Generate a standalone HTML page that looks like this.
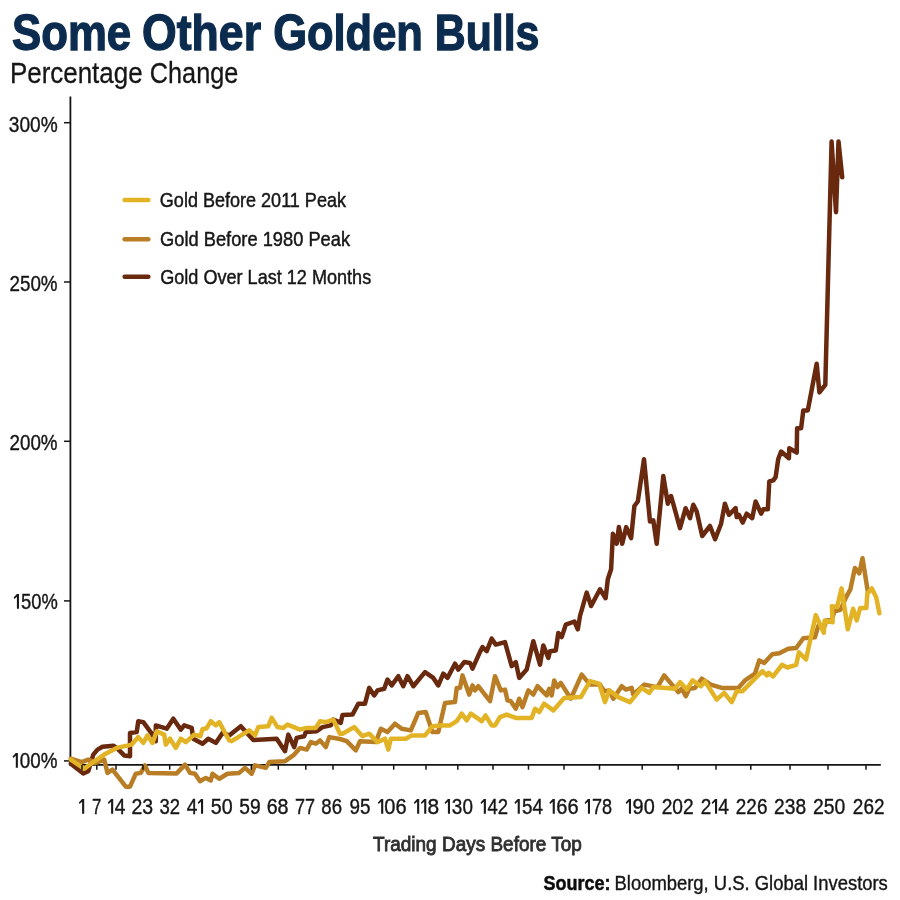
<!DOCTYPE html>
<html><head><meta charset="utf-8"><title>Some Other Golden Bulls</title>
<style>
html,body{margin:0;padding:0;background:#fff;}
body{width:900px;height:900px;overflow:hidden;}
svg{display:block;font-family:"Liberation Sans",sans-serif;will-change:transform;}
</style></head><body>
<svg width="900" height="900" viewBox="0 0 900 900">
<rect width="900" height="900" fill="#ffffff"/>
<g stroke="#141414" fill="none">
<path stroke-width="1.8" d="M70.4,96.5 V765.8"/>
<path stroke-width="1.8" d="M69.6,764.9 H880.8"/>
<path stroke-width="1.5" d="M64,122.7 H70.4"/>
<path stroke-width="1.5" d="M64,282 H70.4"/>
<path stroke-width="1.5" d="M64,441.3 H70.4"/>
<path stroke-width="1.5" d="M64,600.9 H70.4"/>
<path stroke-width="1.5" d="M64,760.9 H70.4"/>
</g>
<g fill="none" stroke-width="4.5" stroke-linejoin="round" stroke-linecap="round">
<path stroke="#69290f" d="M70.8,763.7 L83.3,773.4 L88.3,771.2 L93.3,754.6 L97.5,749.6 L102.5,746.7 L113.3,745.7 L117.5,748.7 L124.2,755.4 L130.0,756.2 L130.0,732.9 L136.7,732.1 L138.3,721.2 L143.3,722.1 L152.5,734.6 L155.8,741.2 L155.8,725.4 L166.7,728.7 L173.3,718.7 L180.8,729.6 L184.2,725.4 L191.7,727.9 L193.3,738.7 L202.5,743.7 L208.3,738.7 L215.8,742.9 L222.5,732.9 L229.2,735.4 L240.8,726.2 L253.3,740.1 L276.7,738.7 L285.0,751.2 L288.3,734.6 L294.2,747.1 L296.7,737.9 L304.2,736.2 L305.8,732.1 L316.7,731.2 L322.5,727.1 L330.8,725.4 L333.3,719.6 L340.8,722.9 L342.5,714.9 L352.5,714.6 L358.3,703.7 L365.0,703.7 L369.2,687.9 L374.2,695.4 L377.5,690.4 L384.2,688.7 L387.5,679.6 L391.7,685.4 L398.3,676.2 L403.3,686.2 L407.5,676.2 L413.3,686.2 L425.0,672.1 L433.3,677.9 L438.3,685.4 L443.3,673.7 L447.5,677.9 L455.0,663.7 L458.3,669.6 L464.2,662.1 L470.0,662.9 L472.5,668.7 L480.0,651.9 L482.5,647.1 L486.7,651.2 L491.7,638.7 L495.8,644.6 L505.0,642.1 L511.7,666.2 L515.8,662.1 L519.2,677.9 L526.7,669.6 L533.3,641.2 L540.0,664.6 L543.3,645.4 L548.3,657.9 L550.0,651.2 L555.8,650.4 L558.3,632.9 L561.7,637.1 L565.8,624.6 L574.4,621.5 L577.8,629.3 L580.0,616.0 L586.7,592.6 L591.1,606.0 L600.0,589.3 L605.6,598.2 L607.8,579.3 L611.1,569.3 L612.9,533.7 L616.7,543.7 L618.9,527.1 L622.2,543.7 L626.2,527.1 L631.1,538.2 L634.4,506.0 L637.8,501.5 L644.0,459.3 L650.0,521.5 L653.3,520.4 L656.7,543.7 L663.3,476.0 L667.8,503.7 L671.1,496.0 L680.0,528.2 L685.6,508.2 L690.0,518.2 L693.3,504.8 L696.7,511.5 L702.2,536.0 L710.0,526.0 L715.1,539.3 L721.1,523.7 L724.9,503.7 L728.9,514.8 L735.6,508.2 L736.7,517.1 L738.9,514.8 L742.7,522.6 L746.7,513.7 L752.2,518.2 L755.6,501.5 L761.1,513.7 L763.3,509.3 L767.8,509.3 L769.3,481.5 L773.3,480.4 L775.6,477.1 L778.2,459.3 L781.1,451.5 L788.9,458.2 L789.3,448.2 L796.7,452.6 L797.1,428.2 L801.1,428.2 L803.3,410.4 L807.8,410.4 L816.7,363.7 L819.4,392.4 L825.3,384.8 L831.6,141.6 L836.0,212.2 L838.5,141.6 L842.2,177.3"/>
<path stroke="#b97e25" d="M70.8,758.7 L81.7,762.1 L88.3,759.6 L95.8,762.9 L104.2,759.6 L107.5,772.9 L112.5,769.6 L125.8,786.7 L130.0,786.7 L135.8,773.7 L140.8,772.9 L145.0,765.4 L148.3,772.9 L176.7,773.4 L185.0,764.6 L190.0,772.9 L195.0,773.7 L200.0,781.2 L205.8,777.9 L210.8,780.4 L212.5,773.7 L219.2,778.7 L227.5,773.7 L239.2,772.9 L245.0,767.9 L251.7,773.7 L255.0,765.4 L265.8,767.9 L269.2,762.1 L285.0,761.2 L293.3,755.4 L300.0,747.9 L306.7,749.6 L310.8,742.1 L315.8,743.7 L320.0,740.4 L325.8,747.1 L329.2,737.1 L340.0,739.0 L346.7,741.2 L355.8,750.4 L360.0,741.2 L375.8,742.1 L380.8,728.7 L387.5,732.1 L395.0,723.7 L401.7,728.7 L410.8,730.4 L418.3,712.9 L425.8,712.1 L432.5,732.1 L438.3,732.1 L445.0,702.9 L455.0,702.1 L456.7,687.9 L460.0,687.9 L462.5,675.4 L469.2,694.6 L472.5,685.4 L475.0,690.4 L478.3,686.2 L490.0,701.2 L495.0,676.2 L500.8,690.4 L505.0,689.6 L507.5,700.4 L510.8,701.2 L515.8,708.7 L519.2,698.7 L522.5,707.1 L528.3,690.4 L533.3,694.6 L537.5,686.2 L546.7,695.4 L549.2,688.7 L551.7,695.4 L554.2,680.4 L557.5,687.1 L560.8,682.9 L570.8,698.7 L581.7,674.6 L590.0,684.6 L600.0,684.6 L604.2,691.2 L609.2,690.4 L613.3,698.7 L621.7,686.2 L625.8,689.6 L631.7,687.9 L633.3,694.6 L644.2,684.6 L657.5,687.1 L664.2,675.4 L673.3,686.2 L678.3,692.1 L681.7,688.7 L685.8,696.2 L689.2,688.7 L695.0,687.9 L701.7,678.7 L710.8,684.6 L721.7,687.9 L738.3,687.9 L745.0,680.4 L755.0,673.7 L759.2,660.4 L764.2,662.9 L772.2,654.2 L779.3,653.3 L788.2,648.8 L796.2,648.0 L803.3,638.2 L814.9,637.3 L818.4,625.7 L824.7,625.7 L826.4,620.4 L831.8,619.5 L834.4,611.5 L840.7,609.7 L846.0,597.3 L850.4,589.3 L854.9,568.0 L859.3,573.3 L862.5,558.2 L867.3,588.4 L868.0,592.4"/>
<path stroke="#e2b325" d="M70.8,759.6 L84.2,768.7 L93.3,762.1 L104.2,754.6 L116.7,747.9 L131.7,744.6 L138.3,737.1 L143.3,742.9 L147.5,735.4 L152.5,742.9 L156.7,731.2 L164.2,734.6 L165.8,744.6 L170.0,738.7 L175.8,747.9 L180.8,738.7 L185.8,742.1 L194.2,734.6 L200.4,736.2 L202.5,729.2 L206.7,728.2 L210.8,721.2 L215.8,725.4 L219.2,722.1 L229.2,740.4 L231.7,741.2 L249.2,730.4 L255.0,735.4 L258.3,727.1 L268.3,726.2 L271.7,717.9 L277.5,727.1 L283.3,727.9 L287.5,724.6 L300.0,729.6 L306.7,727.9 L315.8,727.9 L320.0,721.2 L325.8,722.1 L333.3,719.6 L340.0,733.7 L342.5,733.7 L354.2,727.1 L362.5,736.2 L369.2,733.7 L377.5,742.1 L385.0,738.7 L388.3,749.6 L390.8,738.7 L405.8,738.7 L411.7,735.4 L425.0,735.4 L432.5,726.2 L440.0,725.4 L450.0,725.4 L456.7,721.2 L461.7,713.7 L466.7,720.4 L470.8,713.7 L481.7,721.2 L485.5,715.4 L491.7,725.4 L495.0,725.4 L500.0,717.1 L506.7,714.6 L515.8,717.9 L531.7,717.9 L535.0,708.7 L539.2,712.1 L544.2,703.7 L553.3,710.4 L564.2,697.9 L580.8,697.1 L590.0,681.2 L599.2,683.7 L605.0,702.1 L609.2,690.4 L618.3,697.1 L630.0,702.1 L641.7,687.9 L649.2,692.9 L653.3,687.1 L675.0,688.7 L680.0,682.1 L686.7,689.6 L692.5,680.4 L700.8,686.2 L705.0,681.2 L716.7,699.6 L724.2,692.9 L731.7,702.1 L736.7,691.2 L742.5,691.2 L762.4,671.1 L766.9,675.5 L768.7,672.8 L773.1,676.4 L782.0,664.8 L787.3,667.5 L796.2,664.8 L798.9,652.4 L806.0,659.5 L815.8,615.1 L823.8,632.8 L824.7,620.4 L832.7,622.2 L831.8,606.2 L837.1,607.1 L841.6,588.4 L847.8,629.3 L853.1,608.8 L856.7,620.4 L860.2,608.0 L866.4,608.0 L867.3,593.7 L871.8,588.4 L876.2,597.3 L879.4,613.3"/>
</g>
<g stroke="#141414" stroke-width="1.5" fill="none">
<path d="M82,765 V769.7"/>
<path d="M96.8,765 V769.7"/>
<path d="M116,765 V769.7"/>
<path d="M143,765 V769.7"/>
<path d="M169.7,765 V769.7"/>
<path d="M196.7,765 V769.7"/>
<path d="M222.7,765 V769.7"/>
<path d="M251.3,765 V769.7"/>
<path d="M278.3,765 V769.7"/>
<path d="M305.8,765 V769.7"/>
<path d="M333,765 V769.7"/>
<path d="M362,765 V769.7"/>
<path d="M393.7,765 V769.7"/>
<path d="M426,765 V769.7"/>
<path d="M457.8,765 V769.7"/>
<path d="M493,765 V769.7"/>
<path d="M528.5,765 V769.7"/>
<path d="M564,765 V769.7"/>
<path d="M599.5,765 V769.7"/>
<path d="M642.2,765 V769.7"/>
<path d="M678.2,765 V769.7"/>
<path d="M716,765 V769.7"/>
<path d="M750.8,765 V769.7"/>
<path d="M790,765 V769.7"/>
<path d="M828,765 V769.7"/>
<path d="M866,765 V769.7"/>
</g>
<g stroke-width="4.4" stroke-linecap="round">
<path stroke="#e2b325" d="M124.6,200 H148.4"/>
<path stroke="#b97e25" d="M124.6,239.2 H148.4"/>
<path stroke="#69290f" d="M124.6,276.7 H148.4"/>
</g>
<g>
<text x="12.00" y="50.2" font-size="50" font-weight="bold" fill="#0b2c4e" stroke="#0b2c4e" stroke-width="1.3" textLength="119.09" lengthAdjust="spacingAndGlyphs">Some</text>
<text x="142.08" y="50.2" font-size="50" font-weight="bold" fill="#0b2c4e" stroke="#0b2c4e" stroke-width="1.3" textLength="118.93" lengthAdjust="spacingAndGlyphs">Other</text>
<text x="273.17" y="50.2" font-size="50" font-weight="bold" fill="#0b2c4e" stroke="#0b2c4e" stroke-width="1.3" textLength="149.71" lengthAdjust="spacingAndGlyphs">Golden</text>
<text x="434.75" y="50.2" font-size="50" font-weight="bold" fill="#0b2c4e" stroke="#0b2c4e" stroke-width="1.3" textLength="104.68" lengthAdjust="spacingAndGlyphs">Bulls</text>
<text x="9.94" y="82.7" font-size="29" fill="#161616" stroke="#161616" stroke-width="0.3" textLength="132.66" lengthAdjust="spacingAndGlyphs">Percentage</text>
<text x="149.87" y="82.7" font-size="29" fill="#161616" stroke="#161616" stroke-width="0.3" textLength="88.38" lengthAdjust="spacingAndGlyphs">Change</text>
<text x="8.84" y="132.0" font-size="22.8" fill="#161616" stroke="#161616" stroke-width="0.4" textLength="48.90" lengthAdjust="spacingAndGlyphs">300%</text>
<text x="9.47" y="290.7" font-size="22.8" fill="#161616" stroke="#161616" stroke-width="0.4" textLength="48.12" lengthAdjust="spacingAndGlyphs">250%</text>
<text x="9.47" y="449.7" font-size="22.8" fill="#161616" stroke="#161616" stroke-width="0.4" textLength="48.12" lengthAdjust="spacingAndGlyphs">200%</text>
<text x="20.99" y="608.8" font-size="22.8" fill="#161616" stroke="#161616" stroke-width="0.4" textLength="36.72" lengthAdjust="spacingAndGlyphs">50%</text>
<text x="19.85" y="767.8" font-size="22.8" fill="#161616" stroke="#161616" stroke-width="0.4" textLength="37.69" lengthAdjust="spacingAndGlyphs">00%</text>
<text x="92.09" y="813.9" font-size="22.8" fill="#161616" stroke="#161616" stroke-width="0.4" textLength="9.34" lengthAdjust="spacingAndGlyphs">7</text>
<text x="114.66" y="813.9" font-size="22.8" fill="#161616" stroke="#161616" stroke-width="0.4" textLength="10.59" lengthAdjust="spacingAndGlyphs">4</text>
<text x="131.38" y="813.9" font-size="22.8" fill="#161616" stroke="#161616" stroke-width="0.4" textLength="21.65" lengthAdjust="spacingAndGlyphs">23</text>
<text x="159.40" y="813.9" font-size="22.8" fill="#161616" stroke="#161616" stroke-width="0.4" textLength="20.56" lengthAdjust="spacingAndGlyphs">32</text>
<text x="186.68" y="813.9" font-size="22.8" fill="#161616" stroke="#161616" stroke-width="0.4" textLength="10.60" lengthAdjust="spacingAndGlyphs">4</text>
<text x="210.83" y="813.9" font-size="22.8" fill="#161616" stroke="#161616" stroke-width="0.4" textLength="21.88" lengthAdjust="spacingAndGlyphs">50</text>
<text x="239.24" y="813.9" font-size="22.8" fill="#161616" stroke="#161616" stroke-width="0.4" textLength="21.36" lengthAdjust="spacingAndGlyphs">59</text>
<text x="266.70" y="813.9" font-size="22.8" fill="#161616" stroke="#161616" stroke-width="0.4" textLength="21.85" lengthAdjust="spacingAndGlyphs">68</text>
<text x="294.95" y="813.9" font-size="22.8" fill="#161616" stroke="#161616" stroke-width="0.4" textLength="20.04" lengthAdjust="spacingAndGlyphs">77</text>
<text x="321.28" y="813.9" font-size="22.8" fill="#161616" stroke="#161616" stroke-width="0.4" textLength="20.76" lengthAdjust="spacingAndGlyphs">86</text>
<text x="349.49" y="813.9" font-size="22.8" fill="#161616" stroke="#161616" stroke-width="0.4" textLength="21.00" lengthAdjust="spacingAndGlyphs">95</text>
<text x="384.29" y="813.9" font-size="22.8" fill="#161616" stroke="#161616" stroke-width="0.4" textLength="22.23" lengthAdjust="spacingAndGlyphs">06</text>
<text x="427.53" y="813.9" font-size="22.8" fill="#161616" stroke="#161616" stroke-width="0.4" textLength="11.66" lengthAdjust="spacingAndGlyphs">8</text>
<text x="451.87" y="813.9" font-size="22.8" fill="#161616" stroke="#161616" stroke-width="0.4" textLength="21.03" lengthAdjust="spacingAndGlyphs">30</text>
<text x="487.44" y="813.9" font-size="22.8" fill="#161616" stroke="#161616" stroke-width="0.4" textLength="20.60" lengthAdjust="spacingAndGlyphs">42</text>
<text x="521.93" y="813.9" font-size="22.8" fill="#161616" stroke="#161616" stroke-width="0.4" textLength="20.96" lengthAdjust="spacingAndGlyphs">54</text>
<text x="556.28" y="813.9" font-size="22.8" fill="#161616" stroke="#161616" stroke-width="0.4" textLength="22.28" lengthAdjust="spacingAndGlyphs">66</text>
<text x="591.90" y="813.9" font-size="22.8" fill="#161616" stroke="#161616" stroke-width="0.4" textLength="20.10" lengthAdjust="spacingAndGlyphs">78</text>
<text x="632.61" y="813.9" font-size="22.8" fill="#161616" stroke="#161616" stroke-width="0.4" textLength="22.13" lengthAdjust="spacingAndGlyphs">90</text>
<text x="661.67" y="813.9" font-size="22.8" fill="#161616" stroke="#161616" stroke-width="0.4" textLength="32.01" lengthAdjust="spacingAndGlyphs">202</text>
<text x="700.65" y="813.9" font-size="22.8" fill="#161616" stroke="#161616" stroke-width="0.4" textLength="10.54" lengthAdjust="spacingAndGlyphs">2</text>
<text x="718.30" y="813.9" font-size="22.8" fill="#161616" stroke="#161616" stroke-width="0.4" textLength="10.70" lengthAdjust="spacingAndGlyphs">4</text>
<text x="735.87" y="813.9" font-size="22.8" fill="#161616" stroke="#161616" stroke-width="0.4" textLength="31.55" lengthAdjust="spacingAndGlyphs">226</text>
<text x="774.09" y="813.9" font-size="22.8" fill="#161616" stroke="#161616" stroke-width="0.4" textLength="31.97" lengthAdjust="spacingAndGlyphs">238</text>
<text x="813.07" y="813.9" font-size="22.8" fill="#161616" stroke="#161616" stroke-width="0.4" textLength="32.29" lengthAdjust="spacingAndGlyphs">250</text>
<text x="852.86" y="813.9" font-size="22.8" fill="#161616" stroke="#161616" stroke-width="0.4" textLength="31.64" lengthAdjust="spacingAndGlyphs">262</text>
<text x="159.85" y="206.6" font-size="20.1" fill="#161616" stroke="#161616" stroke-width="0.45" textLength="186.11" lengthAdjust="spacingAndGlyphs">Gold Before 2011 Peak</text>
<text x="160.10" y="245.8" font-size="20.1" fill="#161616" stroke="#161616" stroke-width="0.45" textLength="189.98" lengthAdjust="spacingAndGlyphs">Gold Before 1980 Peak</text>
<text x="160.20" y="283.9" font-size="20.1" fill="#161616" stroke="#161616" stroke-width="0.45" textLength="211.02" lengthAdjust="spacingAndGlyphs">Gold Over Last 12 Months</text>
<text x="373.04" y="850.6" font-size="20.8" fill="#303030" stroke="#303030" stroke-width="0.85" textLength="208.87" lengthAdjust="spacingAndGlyphs">Trading Days Before Top</text>
<text x="543.50" y="889.8" font-size="20.7" font-weight="bold" fill="#0c0c0c" stroke="#0c0c0c" stroke-width="0.5" textLength="67.05" lengthAdjust="spacingAndGlyphs">Source:</text>
<text x="614.56" y="889.8" font-size="20.7" fill="#161616" stroke="#161616" stroke-width="0.4" textLength="273.28" lengthAdjust="spacingAndGlyphs">Bloomberg, U.S. Global Investors</text>
</g>
<g fill="#1a1a1a">
<path d="M19.00,594.10 V608.80 H16.90 V596.70 L14.35,599.10 L13.65,597.60 L16.90,594.10 Z"/>
<path d="M17.90,753.10 V767.80 H15.80 V755.70 L13.25,758.10 L12.55,756.60 L15.80,753.10 Z"/>
<path d="M84.20,799.10 V813.80 H82.10 V801.70 L79.55,804.10 L78.85,802.60 L82.10,799.10 Z"/>
<path d="M113.20,799.10 V813.80 H111.10 V801.70 L108.55,804.10 L107.85,802.60 L111.10,799.10 Z"/>
<path d="M203.10,799.10 V813.80 H201.00 V801.70 L198.45,804.10 L197.75,802.60 L201.00,799.10 Z"/>
<path d="M383.25,799.10 V813.80 H381.15 V801.70 L378.60,804.10 L377.90,802.60 L381.15,799.10 Z"/>
<path d="M419.20,799.10 V813.80 H417.10 V801.70 L414.55,804.10 L413.85,802.60 L417.10,799.10 Z"/>
<path d="M426.30,799.10 V813.80 H424.20 V801.70 L421.65,804.10 L420.95,802.60 L424.20,799.10 Z"/>
<path d="M450.00,799.10 V813.80 H447.90 V801.70 L445.35,804.10 L444.65,802.60 L447.90,799.10 Z"/>
<path d="M485.90,799.10 V813.80 H483.80 V801.70 L481.25,804.10 L480.55,802.60 L483.80,799.10 Z"/>
<path d="M519.80,799.10 V813.80 H517.70 V801.70 L515.15,804.10 L514.45,802.60 L517.70,799.10 Z"/>
<path d="M554.80,799.10 V813.80 H552.70 V801.70 L550.15,804.10 L549.45,802.60 L552.70,799.10 Z"/>
<path d="M590.00,799.10 V813.80 H587.90 V801.70 L585.35,804.10 L584.65,802.60 L587.90,799.10 Z"/>
<path d="M631.00,799.10 V813.80 H628.90 V801.70 L626.35,804.10 L625.65,802.60 L628.90,799.10 Z"/>
<path d="M717.10,799.10 V813.80 H715.00 V801.70 L712.45,804.10 L711.75,802.60 L715.00,799.10 Z"/>
</g>
</svg>
</body></html>
